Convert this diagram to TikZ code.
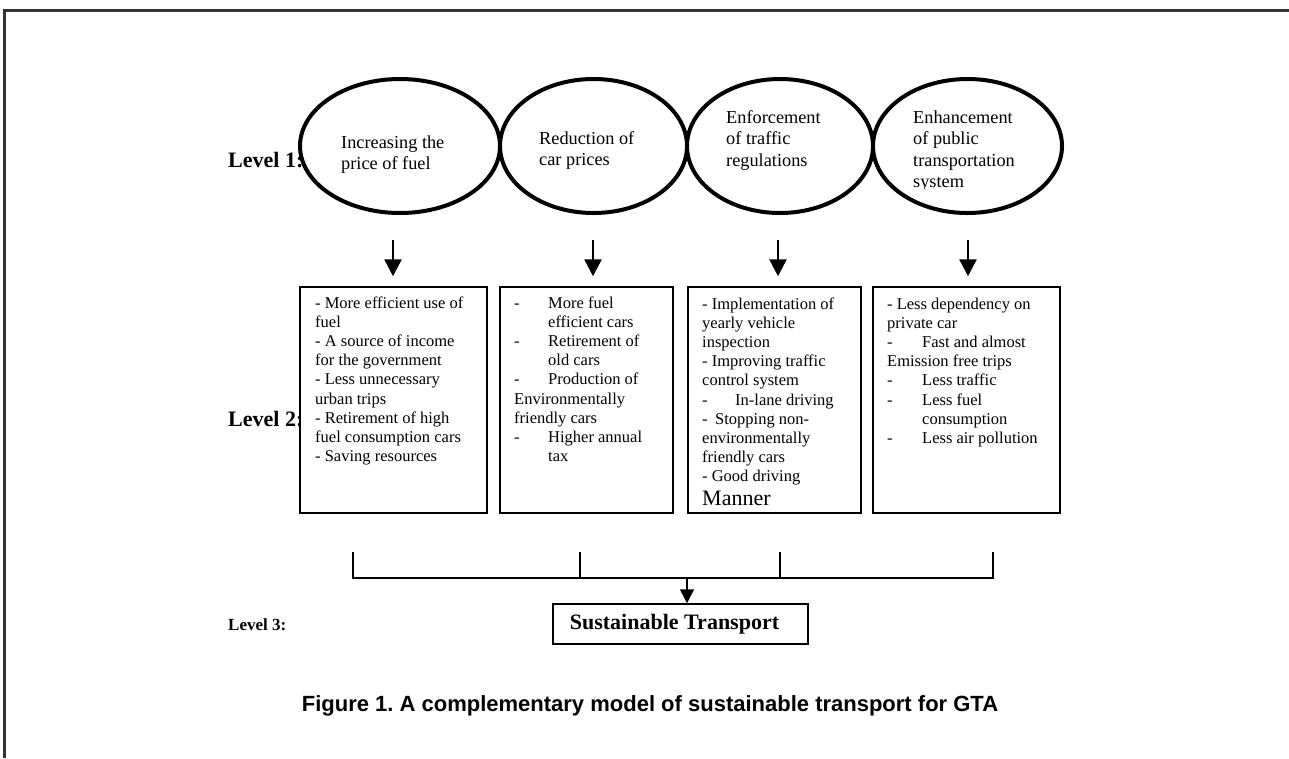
\documentclass[tikz,border=0pt]{standalone}
\usepackage{fontspec}
\setmainfont{Liberation Serif}
\newfontfamily\capfont{Liberation Sans}
\usetikzlibrary{shapes.geometric,arrows.meta}
\newcommand\tabdash[1]{\makebox[#1][l]{-}}
\begin{document}
\begin{tikzpicture}[x=1pt,y=-1pt,
  oval/.style={ellipse,draw,line width=4pt,fill=white,inner sep=0pt,minimum height=134pt},
  ovaltext/.style={anchor=base west,inner sep=0pt,font=\fontsize{18.3}{21.5}\selectfont},
  itembox/.style={draw,line width=1.5pt,fill=white,inner sep=0pt,minimum height=226pt},
  itemtext/.style={anchor=base west,inner sep=0pt,font=\fontsize{16.5}{19.2}\selectfont},
  levellabel/.style={anchor=west,inner sep=0pt,font=\bfseries\fontsize{22}{25}\selectfont},
  bigarrow/.style={line width=2.5pt,-{Triangle[length=17pt,width=17pt]}},
  link/.style={line width=1.5pt},
  smallarrow/.style={line width=1.5pt,-{Triangle[length=14pt,width=14pt]}},
  framerule/.style={line width=3pt,black!80},
]
\useasboundingbox (0,0) rectangle (1289,758);
% frame
\draw[framerule] (4,758) -- (4,10) -- (1289,10);

% level labels (drawn first, partly covered)
\node[levellabel] (l1) at (228,160) {Level 1:};
\node[levellabel] (l2) at (228,419) {Level 2:};
\node[levellabel,font=\bfseries\fontsize{17}{20}\selectfont] (l3) at (228,625) {Level 3:};

% level 1 ellipses
\node[oval,minimum width=200pt] (e1) at (400,146) {};
\node[oval,minimum width=187pt] (e2) at (593.5,146) {};
\node[oval,minimum width=186pt] (e3) at (780,146) {};
\node[oval,minimum width=189pt] (e4) at (967.5,146) {};

\node[ovaltext] (t1) at (341,148) {\parbox[t]{150pt}{\raggedright Increasing the\\price of fuel}};
\node[ovaltext] (t2) at (539,144) {\parbox[t]{150pt}{\raggedright Reduction of\\car prices}};
\node[ovaltext] (t3) at (726,123) {\parbox[t]{150pt}{\raggedright Enforcement\\of traffic\\regulations}};
\begin{scope}
\clip (890,90) rectangle (1060,188);
\node[ovaltext] (t4) at (913,123) {\parbox[t]{150pt}{\raggedright Enhancement\\of public\\transportation\\system}};
\end{scope}

% level 2 boxes
\node[itembox,minimum width=187pt] (b1) at (393.5,400) {};
\node[itembox,minimum width=173pt] (b2) at (586.5,400) {};
\node[itembox,minimum width=173pt] (b3) at (774.5,400) {};
\node[itembox,minimum width=187pt] (b4) at (966.5,400) {};

% arrows level 1 -> level 2
\coordinate (a1) at (393,240);
\coordinate (a2) at (593,240);
\coordinate (a3) at (778,240);
\coordinate (a4) at (968,240);
\draw[bigarrow,shorten >=10pt] (a1) -- (a1 |- b1.north);
\draw[bigarrow,shorten >=10pt] (a2) -- (a2 |- b2.north);
\draw[bigarrow,shorten >=10pt] (a3) -- (a3 |- b3.north);
\draw[bigarrow,shorten >=10pt] (a4) -- (a4 |- b4.north);

% box texts
\node[itemtext] (x1) at (315,308) {\parbox[t]{170pt}{\raggedright
- More efficient use of\\
fuel\\
- A source of income\\
for the government\\
- Less unnecessary\\
urban trips\\
- Retirement of high\\
fuel consumption cars\\
- Saving resources}};

\node[itemtext] (x2) at (514,308) {\parbox[t]{160pt}{\raggedright
\tabdash{34pt}More fuel\\
\hspace*{34pt}efficient cars\\
\tabdash{34pt}Retirement of\\
\hspace*{34pt}old cars\\
\tabdash{34pt}Production of\\
Environmentally\\
friendly cars\\
\tabdash{34pt}Higher annual\\
\hspace*{34pt}tax}};

\node[itemtext] (x3) at (702,309) {\parbox[t]{160pt}{\raggedright
- Implementation of\\
yearly vehicle\\
inspection\\
- Improving traffic\\
control system\\
\tabdash{33pt}In-lane driving\\
\tabdash{13pt}Stopping non-\\
environmentally\\
friendly cars\\
- Good driving\\[4pt]
{\fontsize{22}{25}\selectfont Manner}}};

\node[itemtext] (x4) at (887,309) {\parbox[t]{170pt}{\raggedright
- Less dependency on\\
private car\\
\tabdash{35pt}Fast and almost\\
Emission free trips\\
\tabdash{35pt}Less traffic\\
\tabdash{35pt}Less fuel\\
\hspace*{35pt}consumption\\
\tabdash{35pt}Less air pollution}};

% bracket to level 3
\coordinate (k1) at (353,552);
\coordinate (k2) at (580,552);
\coordinate (k3) at (780,552);
\coordinate (k4) at (993,552);
\coordinate (h) at (353,578);
\coordinate (m) at (687,578);
\draw[link] (k1) -- (k1 |- h) -- (k4 |- h) -- (k4);
\draw[link] (k2) -- (k2 |- h);
\draw[link] (k3) -- (k3 |- h);

\node[draw,line width=1.5pt,minimum width=255pt,minimum height=40pt,inner sep=0pt,
  font=\bfseries\fontsize{22}{26}\selectfont] (st) at (680.5,624) {Sustainable Transport\hspace*{12pt}};
\draw[smallarrow] (m) -- (m |- st.north);

% caption
\node[font=\capfont\bfseries\fontsize{22}{26}\selectfont,inner sep=0pt] (cap) at (650,706)
  {\frenchspacing Figure 1. A complementary model of sustainable transport for GTA};
\end{tikzpicture}
\end{document}
